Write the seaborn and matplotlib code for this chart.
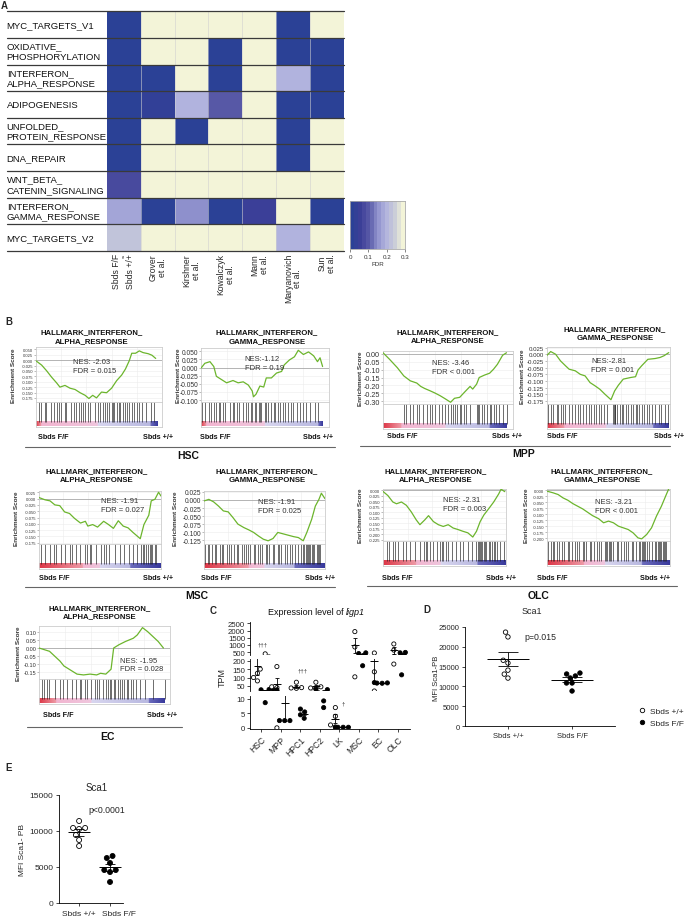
import numpy as np
import pandas as pd
import matplotlib
matplotlib.use("Agg")
import matplotlib.pyplot as plt
import seaborn as sns
from matplotlib.colors import LinearSegmentedColormap
from matplotlib.lines import Line2D
from matplotlib.transforms import blended_transform_factory

# ---------------- Panel A data ----------------
heat_rows = ["MYC_TARGETS_V1", "OXIDATIVE_\nPHOSPHORYLATION", "INTERFERON_\nALPHA_RESPONSE",
             "ADIPOGENESIS", "UNFOLDED_\nPROTEIN_RESPONSE", "DNA_REPAIR",
             "WNT_BETA_\nCATENIN_SIGNALING", "INTERFERON_\nGAMMA_RESPONSE", "MYC_TARGETS_V2"]
heat_cols = ["Sbds F/F vs Sbds +/+", "Grover\net al.", "Kirshner\net al.", "Kowalczyk\net al.",
             "Mann\net al.", "Maryanovich\net al.", "Sun\net al."]
fdr_sbds = [0.0, 0.0, 0.0, 0.0, 0.0, 0.0, 0.07, 0.18, 0.235]
fdr_grover = [0.3, 0.3, 0.0, 0.02, 0.3, 0.3, 0.3, 0.0, 0.3]
fdr_kirshner = [0.3, 0.3, 0.3, 0.2, 0.0, 0.3, 0.3, 0.15, 0.3]
fdr_kowalczyk = [0.3, 0.0, 0.0, 0.095, 0.3, 0.3, 0.3, 0.0, 0.3]
fdr_mann = [0.3, 0.3, 0.3, 0.3, 0.3, 0.3, 0.3, 0.045, 0.3]
fdr_maryanovich = [0.0, 0.0, 0.2, 0.0, 0.0, 0.0, 0.3, 0.3, 0.2]
fdr_sun = [0.3, 0.0, 0.0, 0.0, 0.3, 0.3, 0.3, 0.0, 0.3]
fdr_ticks = [0, 0.1, 0.2, 0.3]
fdr_tick_labels = ["0", "0.1", "0.2", "0.3"]

# ---------------- Panel B data (rank in % of list, enrichment score) ----------------
hsc_alpha_rank = [0, 4.5, 8.4, 12.4, 16.3, 19, 23, 27, 31, 35, 39, 42, 45, 48, 52, 56, 60, 64, 68, 71, 74, 76, 79, 82, 85, 89, 92, 95]
hsc_alpha_es = [-0.003, -0.023, -0.049, -0.079, -0.105, -0.125, -0.117, -0.13, -0.136, -0.151, -0.163, -0.178, -0.163, -0.175,
                -0.148, -0.151, -0.13, -0.095, -0.069, -0.041, -0.003, 0.032, 0.032, 0.043, 0.035, 0.03, 0.023, 0.008]
hsc_alpha_hits = [2, 4, 7, 8, 12, 14, 17, 18, 20, 23, 24, 28, 30, 32, 34, 36, 37, 39, 41, 43, 47, 49, 51, 53, 55, 56, 58, 60,
                  61, 62, 64, 66, 67, 69, 71, 72, 74, 76, 78, 80, 82, 84, 87, 91, 94]
hsc_alpha_yticks = [0.05, 0.025, 0.0, -0.025, -0.05, -0.075, -0.1, -0.125, -0.15, -0.175]

hsc_gamma_rank = [0, 3, 7, 10, 12, 16, 20, 25, 29, 33, 37, 40, 41, 43, 46, 49, 51, 55, 59, 63, 65, 69, 73, 76, 80, 84, 88, 91, 93, 95]
hsc_gamma_es = [-0.002, 0.013, 0.018, 0.003, -0.027, -0.037, -0.047, -0.04, -0.047, -0.044, -0.054, -0.072, -0.09, -0.082,
                -0.057, -0.06, -0.032, -0.032, -0.017, -0.012, 0.008, 0.023, 0.033, 0.053, 0.04, 0.048, 0.036, 0.018, 0.03, 0.003]
hsc_gamma_hits = [1, 3, 6, 8, 10, 12, 14, 15, 17, 19, 23, 25, 26, 28, 30, 33, 35, 37, 39, 40, 42, 43, 45, 46, 47, 50, 51, 52,
                  55, 57, 58, 60, 62, 64, 66, 68, 70, 72, 75, 77, 80, 82, 85, 89, 91.5]
hsc_gamma_yticks = [0.05, 0.025, 0.0, -0.025, -0.05, -0.075, -0.1]

mpp_alpha_rank = [0, 5, 11, 16, 21, 26, 29, 32, 36, 40, 44, 48, 52, 55, 59, 63, 67, 69, 72, 74, 78, 82, 85, 88, 92, 95]
mpp_alpha_es = [0.006, -0.035, -0.088, -0.14, -0.171, -0.185, -0.206, -0.219, -0.233, -0.248, -0.265, -0.285, -0.306,
                -0.281, -0.275, -0.24, -0.206, -0.223, -0.192, -0.15, -0.135, -0.123, -0.098, -0.067, -0.01, 0.006]
mpp_alpha_hits = [16, 18, 21, 23, 26, 28, 31, 34, 36, 38, 40, 43, 45, 48, 50, 52, 54, 55, 57, 59, 60, 62, 64, 67, 72, 73,
                  74, 76, 78, 80, 82, 83, 85, 87, 89, 92, 95]
mpp_alpha_yticks = [0.0, -0.05, -0.1, -0.15, -0.2, -0.25, -0.3]

mpp_gamma_rank = [0, 3, 7, 11, 15, 18, 23, 27, 31, 35, 39, 43, 47, 52, 55, 58, 62, 68, 72, 74, 77, 82, 88, 92, 95, 99]
mpp_gamma_es = [-0.004, 0.01, 0.0, -0.025, -0.043, -0.056, -0.062, -0.075, -0.081, -0.106, -0.118, -0.131, -0.149, -0.17,
                -0.137, -0.116, -0.093, -0.087, -0.084, -0.059, -0.043, -0.019, -0.016, -0.012, -0.006, 0.006]
mpp_gamma_hits = [1, 3, 5, 8, 9, 11, 13, 15, 18, 20, 23, 25, 27, 29, 32, 34, 36, 38, 40, 42, 44, 46, 49, 54, 54.5, 55,
                  55.5, 57, 59, 61, 62, 64, 66, 68, 70, 72, 73, 75, 77, 79, 81, 83, 85, 88, 91, 93, 96, 98]
mpp_gamma_yticks = [0.025, 0.0, -0.025, -0.05, -0.075, -0.1, -0.125, -0.15, -0.175]

msc_alpha_rank = [0, 5, 9, 13, 17, 21, 25, 29, 34, 38, 40, 44, 48, 53, 57, 61, 65, 69, 73, 77, 83, 86, 90, 92, 95, 98, 100]
msc_alpha_es = [0.004, -0.005, -0.009, -0.025, -0.028, -0.053, -0.059, -0.078, -0.097, -0.09, -0.109, -0.103, -0.113,
                -0.09, -0.103, -0.118, -0.088, -0.109, -0.116, -0.134, -0.159, -0.103, -0.066, -0.009, -0.003, 0.025, 0.01]
msc_alpha_hits = [2, 5, 9, 12, 14, 18, 21, 25, 27, 30, 34, 38, 39, 42, 43, 47, 51, 53, 55, 57, 62, 66, 70, 74, 77, 80, 84,
                  85, 86, 88, 89, 91, 92, 93, 95, 96]
msc_alpha_yticks = [0.025, 0.0, -0.025, -0.05, -0.075, -0.1, -0.125, -0.15, -0.175]

msc_gamma_rank = [0, 4, 8, 12, 16, 20, 24, 28, 33, 37, 41, 45, 49, 53, 57, 61, 66, 70, 74, 78, 82, 85, 89, 92, 95, 97, 100]
msc_gamma_es = [-0.003, 0.002, -0.006, -0.019, -0.034, -0.037, -0.055, -0.075, -0.086, -0.093, -0.101, -0.112, -0.122,
                -0.127, -0.12, -0.101, -0.106, -0.11, -0.114, -0.117, -0.127, -0.101, -0.06, -0.019, 0.002, 0.021, 0.004]
msc_gamma_hits = [1, 3, 4, 7, 9, 10, 13, 15, 16, 19, 21, 22, 25, 27, 28, 31, 33, 35, 36, 38, 41, 42, 45, 46, 48, 51, 52,
                  54, 57, 58, 61, 62, 64, 67, 69, 71, 73, 75, 78, 80, 82, 83, 84, 85, 86, 87, 88, 89, 90, 91, 93, 94, 95, 96]
msc_gamma_yticks = [0.025, 0.0, -0.025, -0.05, -0.075, -0.1, -0.125]

olc_alpha_rank = [0, 4, 8, 11, 15, 19, 23, 27, 30, 34, 37, 41, 45, 49, 53, 57, 61, 65, 69, 73, 76, 79, 82, 86, 90, 94, 96, 99]
olc_alpha_es = [-0.006, -0.025, -0.054, -0.062, -0.054, -0.069, -0.099, -0.135, -0.157, -0.135, -0.116, -0.143, -0.157,
                -0.165, -0.157, -0.172, -0.179, -0.187, -0.194, -0.213, -0.187, -0.143, -0.113, -0.084, -0.054, -0.018, 0.004, -0.007]
olc_alpha_hits = [3, 5, 8, 10, 12, 16, 19, 22, 26, 30, 33, 35, 36, 38, 41, 44, 46, 48, 49, 51, 53, 56, 59, 63, 65, 69, 72,
                  76, 77, 78, 78.5, 80, 80.5, 82, 83, 84, 86, 87, 89, 90, 91, 93, 95, 98]
olc_alpha_yticks = [0.0, -0.025, -0.05, -0.075, -0.1, -0.125, -0.15, -0.175, -0.2, -0.225]

olc_gamma_rank = [0, 5, 9, 13, 17, 21, 25, 29, 33, 37, 42, 46, 50, 54, 58, 62, 66, 70, 74, 77, 81, 85, 89, 93, 97, 99]
olc_gamma_es = [-0.004, -0.011, -0.018, -0.032, -0.042, -0.056, -0.067, -0.078, -0.092, -0.106, -0.119, -0.136, -0.129,
                -0.136, -0.15, -0.157, -0.164, -0.178, -0.199, -0.203, -0.185, -0.157, -0.108, -0.067, -0.018, 0.006]
olc_gamma_hits = [1, 3, 5, 6, 8, 10, 12, 14, 17, 18, 20, 23, 24, 26, 29, 30, 32, 35, 36, 38, 41, 42, 44, 47, 48, 49, 50,
                  51, 52, 54, 57, 58, 60, 63, 64, 66, 69, 70, 72, 75, 76, 77, 78, 79, 80, 81, 83, 85, 88, 89, 90, 91, 92,
                  93, 94, 95, 96, 97]
olc_gamma_yticks = [0.0, -0.025, -0.05, -0.075, -0.1, -0.125, -0.15, -0.175, -0.2]

ec_alpha_rank = [0, 4, 8, 12, 16, 19, 23, 29, 34, 39, 44, 47, 51, 55, 57, 61, 66, 72, 75, 79, 83, 87, 91, 95]
ec_alpha_es = [0.0, -0.01, -0.02, -0.05, -0.08, -0.11, -0.13, -0.16, -0.165, -0.16, -0.165, -0.155, -0.16, -0.13, 0.0,
               0.02, 0.04, 0.06, 0.08, 0.125, 0.1, 0.07, 0.04, 0.0]
ec_alpha_hits = [2, 4, 6, 8, 12, 16, 18, 21, 25, 28, 31, 32, 35, 37, 40, 43, 44, 46, 49, 51, 53, 54, 55, 57, 58, 60, 62,
                 63, 65, 67, 68, 70, 72, 74, 77, 81, 87, 96]
ec_alpha_yticks = [0.1, 0.05, 0.0, -0.05, -0.1, -0.15]

nes_texts = ["NES: -2.03\nFDR = 0.015", "NES:-1.12\nFDR = 0.19", "NES: -3.46\nFDR < 0.001", "NES:-2.81\nFDR = 0.001",
             "NES: -1.91\nFDR = 0.027", "NES: -1.91\nFDR = 0.025", "NES: -2.31\nFDR = 0.003", "NES: -3.21\nFDR < 0.001",
             "NES: -1.95\nFDR = 0.028"]
title_alpha = "HALLMARK_INTERFERON_\nALPHA_RESPONSE"
title_gamma = "HALLMARK_INTERFERON_\nGAMMA_RESPONSE"
cell_names = ["HSC", "MPP", "MSC", "OLC", "EC"]

# ---------------- Panel C data (TPM) ----------------
c_cells = ["HSC", "MPP", "HPC1", "HPC2", "LK", "MSC", "EC", "OLC"]
c_wt_values = [[380, 150, 125, 100, 80], [165, 45, 40, 0], [72, 40, 38, 36], [72, 45, 38, 36],
               [7, 4, 1, 0.3], [1930, 860, 104], [440, 134, 20], [1070, 640, 180]]
c_ko_values = [[30, 29, 27, 8.7], [27, 2.5, 2.5, 2.5], [6.5, 5.5, 4.5, 3.3], [31, 28, 9.3, 7],
               [0.2, 0.2, 0.2, 0.2], [450, 400, 170], [70, 68, 67, 66], [480, 450, 116]]
c_ticks_top = [500, 1000, 1500, 2000, 2500]
c_ticks_mid = [50, 100, 150, 200]
c_ticks_bot = [0, 5, 10]
geno_order = ["Sbds +/+", "Sbds F/F"]

# ---------------- Panel D / E data (MFI) ----------------
d_wt = [23700, 22500, 16600, 15900, 14100, 13100, 12100]
d_ko = [13130, 13380, 12630, 12120, 10860, 10860, 8840]
d_ticks = [0, 5000, 10000, 15000, 20000, 25000]
e_wt = [11390, 10420, 10280, 10420, 9440, 8750, 7920]
e_ko = [6530, 6250, 5560, 4580, 4580, 4300, 2920]
e_ticks = [0, 5000, 10000, 15000]

# =====================================================================
sns.set_theme(style="ticks")
plt.rcParams["font.family"] = ["Liberation Sans", "DejaVu Sans"]
plt.rcParams["axes.linewidth"] = 0.6

W, H = 685, 920
fig = plt.figure(figsize=(6.85, 9.2), dpi=100)
fig.patch.set_facecolor("white")


def add_ax(x0, y0, x1, y1):
    return fig.add_axes([x0 / W, 1 - y1 / H, (x1 - x0) / W, (y1 - y0) / H])


def ftext(x, y, s, **kw):
    return fig.text(x / W, 1 - y / H, s, **kw)


def fline(x0, x1, y, color="#555555", lw=0.8):
    fig.add_artist(Line2D([x0 / W, x1 / W], [1 - y / H, 1 - y / H], color=color, lw=lw,
                          transform=fig.transFigure))


# ---------------- Panel A ----------------
ftext(1, 6, "A", fontsize=7, fontweight="bold", ha="left", va="center")
heat_df = pd.DataFrame(np.array([fdr_sbds, fdr_grover, fdr_kirshner, fdr_kowalczyk, fdr_mann,
                                 fdr_maryanovich, fdr_sun]).T, index=heat_rows, columns=heat_cols)
cmap_fdr = LinearSegmentedColormap.from_list(
    "fdr", [(0, "#2b4196"), (0.05 / 0.3, "#3d3f98"), (0.1 / 0.3, "#5a5ba8"), (0.15 / 0.3, "#8e90cc"),
            (0.2 / 0.3, "#b1b3de"), (0.25 / 0.3, "#c8cbd9"), (1.0, "#f3f4d8")])
A_x0, A_x1, A_y0, A_y1 = 106.7, 344, 12.3, 251.7
axA = add_ax(A_x0, A_y0, A_x1, A_y1)
sns.heatmap(heat_df, ax=axA, cmap=cmap_fdr, vmin=0, vmax=0.3, cbar=False,
            xticklabels=False, yticklabels=False, linewidths=0)
axA.set_xlabel("")
axA.set_ylabel("")
trA = blended_transform_factory(axA.transAxes, axA.transData)
for j in range(1, len(heat_cols)):
    axA.axvline(j, color="#d0d0d0", lw=0.4)
left_frac = (6.7 - A_x0) / (A_x1 - A_x0)
for i in range(len(heat_rows) + 1):
    axA.plot([left_frac, 1], [i, i], transform=trA, color="#3a3a3a", lw=0.9, clip_on=False)
for i, lab in enumerate(heat_rows):
    axA.text(left_frac, i + 0.5, lab, transform=trA, ha="left", va="center", fontsize=6.8,
             linespacing=1.2, color="#111111")
colw = (A_x1 - A_x0) / len(heat_cols)
for j, lab in enumerate(heat_cols):
    cx = A_x0 + colw * (j + 0.5)
    if j == 0:
        ftext(cx - 7, 254, "Sbds F/F", rotation=90, ha="center", va="top", fontsize=6.2)
        ftext(cx + 0.5, 254, "vs", rotation=90, ha="center", va="top", fontsize=3)
        ftext(cx + 7, 254, "Sbds +/+", rotation=90, ha="center", va="top", fontsize=6.2)
    else:
        ftext(cx, 254, lab, rotation=90, ha="center", va="top", fontsize=6.2, multialignment="center",
              linespacing=1.1)

axCB = add_ax(350, 202, 405, 250)
axCB.imshow(np.linspace(0, 0.3, 14)[None, :], aspect="auto", cmap=cmap_fdr, vmin=0, vmax=0.3,
            extent=[0, 0.3, 0, 1])
axCB.set_xlim(0, 0.3)
axCB.set_yticks([])
axCB.set_xticks(fdr_ticks)
axCB.set_xticklabels(fdr_tick_labels, fontsize=4.5, color="#333333")
axCB.tick_params(axis="x", length=2, width=0.5, pad=1.5, color="#555555")
axCB.set_xlabel("FDR", fontsize=4.5, labelpad=1.5, color="#333333")
for s in axCB.spines.values():
    s.set_color("#aaaaaa")
    s.set_linewidth(0.6)

# ---------------- Panel B ----------------
ftext(5, 322, "B", fontsize=7, fontweight="bold", ha="left", va="center")

gsea_specs = [
    dict(box=(36, 348, 162, 403), rank=hsc_alpha_rank, es=hsc_alpha_es, hits=hsc_alpha_hits, yt=hsc_alpha_yticks,
         ylim=(-0.194, 0.061), fmt="{:.3f}", tfs=3.0, strip=(4, 49, 91, 96.6), nes=nes_texts[0], nes_xy=(0.29, 0.80),
         title=title_alpha, txy=(92, 337), ylx=14, laby=438, labl=38, labr=173),
    dict(box=(201, 349, 329, 403), rank=hsc_gamma_rank, es=hsc_gamma_es, hits=hsc_gamma_hits, yt=hsc_gamma_yticks,
         ylim=(-0.106, 0.06), fmt="{:.3f}", tfs=4.8, strip=(4, 50, 92, 95.3), nes=nes_texts[1], nes_xy=(0.34, 0.87),
         title=title_gamma, txy=(267, 337), ylx=178, laby=438, labl=200, labr=333),
    dict(box=(383, 352, 513, 405), rank=mpp_alpha_rank, es=mpp_alpha_es, hits=mpp_alpha_hits, yt=mpp_alpha_yticks,
         ylim=(-0.317, 0.017), fmt="{:.2f}", tfs=5.2, strip=(14, 48, 82, 95), nes=nes_texts[2], nes_xy=(0.38, 0.85),
         title=title_alpha, txy=(448, 336.5), ylx=361, laby=437, labl=387, labr=522),
    dict(box=(547, 348, 670, 405), rank=mpp_gamma_rank, es=mpp_gamma_es, hits=mpp_gamma_hits, yt=mpp_gamma_yticks,
         ylim=(-0.186, 0.027), fmt="{:.3f}", tfs=4.4, strip=(14, 48, 86, 98.6), nes=nes_texts[3], nes_xy=(0.36, 0.82),
         title=title_gamma, txy=(615, 334), ylx=523, laby=437, labl=547, labr=684),
    dict(box=(39, 492, 161, 545), rank=msc_alpha_rank, es=msc_alpha_es, hits=msc_alpha_hits, yt=msc_alpha_yticks,
         ylim=(-0.18, 0.03), fmt="{:.3f}", tfs=3.0, strip=(36, 50, 75, 100), nes=nes_texts[4], nes_xy=(0.51, 0.89),
         title=title_alpha, txy=(97, 476), ylx=17, laby=578, labl=39, labr=173),
    dict(box=(204, 492, 325, 545), rank=msc_gamma_rank, es=msc_gamma_es, hits=msc_gamma_hits, yt=msc_gamma_yticks,
         ylim=(-0.137, 0.028), fmt="{:.3f}", tfs=4.8, strip=(37, 50, 75, 100), nes=nes_texts[5], nes_xy=(0.45, 0.87),
         title=title_gamma, txy=(267, 476), ylx=175, laby=578, labl=201, labr=335),
    dict(box=(383, 490, 506, 542), rank=olc_alpha_rank, es=olc_alpha_es, hits=olc_alpha_hits, yt=olc_alpha_yticks,
         ylim=(-0.231, 0.005), fmt="{:.3f}", tfs=3.0, strip=(27, 47, 77, 100), nes=nes_texts[6], nes_xy=(0.49, 0.87),
         title=title_alpha, txy=(436, 476), ylx=361, laby=578, labl=382, labr=516),
    dict(box=(547, 490, 670, 542), rank=olc_gamma_rank, es=olc_gamma_es, hits=olc_gamma_hits, yt=olc_gamma_yticks,
         ylim=(-0.212, 0.005), fmt="{:.3f}", tfs=3.0, strip=(30, 47, 77, 99.5), nes=nes_texts[7], nes_xy=(0.39, 0.82),
         title=title_gamma, txy=(602, 476), ylx=527, laby=578, labl=537, labr=670),
    dict(box=(39, 627, 170, 680), rank=ec_alpha_rank, es=ec_alpha_es, hits=ec_alpha_hits, yt=ec_alpha_yticks,
         ylim=(-0.19, 0.135), fmt="{:.2f}", tfs=4.0, strip=(13, 40, 84, 96), nes=nes_texts[8], nes_xy=(0.62, 0.42),
         title=title_alpha, txy=(100, 613), ylx=18, laby=716, labl=43, labr=177),
]

grad = np.linspace(0, 1, 256)[None, :]
for sp in gsea_specs:
    x0, y0, x1, y1 = sp["box"]
    ax = add_ax(x0, y0, x1, y1)
    ax.plot(sp["rank"], sp["es"], color="#6cb52d", lw=0.9, zorder=3)
    ax.axhline(0, color="#9a9a9a", lw=0.5, zorder=2)
    ax.set_xlim(0, 100)
    ax.set_ylim(*sp["ylim"])
    ax.set_yticks(sp["yt"])
    ax.set_yticklabels([sp["fmt"].format(v) for v in sp["yt"]], fontsize=sp["tfs"], color="#333333")
    ax.set_xticks([20, 40, 60, 80])
    ax.set_xticklabels([])
    ax.tick_params(axis="y", length=1.2, width=0.4, pad=0.8, color="#888888")
    ax.tick_params(axis="x", length=0)
    ax.grid(True, color="#ececec", lw=0.4, zorder=0)
    for s in ax.spines.values():
        s.set_color("#cccccc")
        s.set_linewidth(0.6)
    ax.text(sp["nes_xy"][0], sp["nes_xy"][1], sp["nes"], transform=ax.transAxes, ha="left", va="top",
            fontsize=5.5, linespacing=1.35, color="#333333", zorder=4)

    low = add_ax(x0, y1, x1, y1 + 25)
    r, p, l, e = sp["strip"]
    nodes = [(0, "#dc3646"), (r / e - 0.002, "#ee9aa6"), (r / e, "#f2b5d0"), (p / e - 0.002, "#efc6dd"),
             (p / e, "#d8d6ef"), (l / e - 0.002, "#b8b8e0"), (l / e, "#6c6cbc"), (1, "#38399c")]
    scm = LinearSegmentedColormap.from_list("strip", nodes)
    low.imshow(grad, aspect="auto", cmap=scm, extent=[0, e, 0.03, 0.21], zorder=1)
    low.vlines(sp["hits"], 0.21, 1.0, color="#1c1c1c", lw=0.45, zorder=2)
    low.set_xlim(0, 100)
    low.set_ylim(0, 1)
    low.set_xticks([])
    low.set_yticks([])
    for s in low.spines.values():
        s.set_color("#cccccc")
        s.set_linewidth(0.6)

    ftext(sp["txy"][0], sp["txy"][1], sp["title"], ha="center", va="center", fontsize=5.6,
          fontweight="bold", linespacing=1.25, color="#111111")
    ftext(sp["ylx"], (y0 + y1) / 2, "Enrichment Score", rotation=90, ha="center", va="center",
          fontsize=4.6, fontweight="bold", color="#333333")
    ftext(sp["labl"], sp["laby"], "Sbds F/F", ha="left", va="center", fontsize=5.2, fontweight="bold",
          color="#111111")
    ftext(sp["labr"], sp["laby"], "Sbds +/+", ha="right", va="center", fontsize=5.2, fontweight="bold",
          color="#111111")

group_lines = [(25, 335, 448, 188, 456), (360, 670, 447, 524, 454), (25, 335, 588, 197, 596),
               (367, 677, 587, 538, 596), (27, 182, 728, 107, 737)]
for name, (gx0, gx1, gy, tx, ty) in zip(cell_names, group_lines):
    fline(gx0, gx1, gy, color="#666666", lw=0.8)
    ftext(tx, ty, name, ha="center", va="center", fontsize=7.5, fontweight="bold", color="#111111")

# ---------------- Panel C ----------------
ftext(213, 611, "C", fontsize=7, fontweight="bold", ha="center", va="center")
t_expr = ftext(268, 613, "Expression level of ", ha="left", va="center", fontsize=6.5, color="#111111")
axA.annotate("ligp1", xy=(1, 0), xycoords=t_expr, ha="left", va="bottom", fontsize=6.5,
             style="italic", color="#111111", annotation_clip=False)

c_rows = []
for cell, wt, ko in zip(c_cells, c_wt_values, c_ko_values):
    for v in wt:
        c_rows.append((cell, geno_order[0], v))
    for v in ko:
        c_rows.append((cell, geno_order[1], v))
c_df = pd.DataFrame(c_rows, columns=["cell", "geno", "tpm"])
geno_pal = {geno_order[0]: "white", geno_order[1]: "black"}

c_segments = [((250, 623, 410, 656), (300, 2600), c_ticks_top),
              ((250, 660, 410, 692), (20, 210), c_ticks_mid),
              ((250, 697, 410, 730), (-0.4, 11), c_ticks_bot)]
for k, (box, lim, ticks) in enumerate(c_segments):
    ax = add_ax(*box)
    sns.swarmplot(data=c_df, x="cell", y="tpm", hue="geno", order=c_cells, hue_order=geno_order,
                  palette=geno_pal, dodge=True, size=3.0, edgecolor="black", linewidth=0.6,
                  legend=False, ax=ax, clip_on=True, zorder=3)
    for i, cell in enumerate(c_cells):
        for g, off in zip(geno_order, (-0.2, 0.2)):
            v = c_df.loc[(c_df.cell == cell) & (c_df.geno == g), "tpm"].to_numpy()
            m = v.mean()
            s = v.std(ddof=1) / np.sqrt(len(v))
            xc = i + off
            ax.hlines(m, xc - 0.2, xc + 0.2, color="black", lw=0.7, zorder=4)
            ax.vlines(xc, m - s, m + s, color="black", lw=0.6, zorder=4)
            ax.hlines([m - s, m + s], xc - 0.1, xc + 0.1, color="black", lw=0.6, zorder=4)
    ax.set_xlim(-0.58, 7.63)
    ax.set_ylim(*lim)
    ax.set_yticks(ticks)
    ax.set_yticklabels([str(t) for t in ticks], fontsize=5.6)
    ax.set_xlabel("")
    ax.set_ylabel("")
    ax.tick_params(axis="y", length=2.5, width=0.6, pad=1)
    for s in ("top", "right"):
        ax.spines[s].set_visible(False)
    ax.spines["left"].set_color("black")
    if k < 2:
        ax.spines["bottom"].set_visible(False)
        ax.set_xticks([])
    else:
        ax.spines["bottom"].set_color("black")
        ax.set_xticks(range(len(c_cells)))
        ax.set_xticklabels(c_cells, rotation=45, ha="right", rotation_mode="anchor", fontsize=6.2)
        ax.tick_params(axis="x", length=2.5, width=0.6, pad=1.5)
ftext(222, 678, "TPM", rotation=90, ha="center", va="center", fontsize=6.5)
ftext(263, 645, "†††", ha="center", va="center", fontsize=4.5)
ftext(303, 671, "†††", ha="center", va="center", fontsize=4.5)
ftext(343, 704, "†", ha="center", va="center", fontsize=4.5)


# ---------------- Panel D / E ----------------
def mfi_panel(box, wt, ko, ylim, ticks, xlim, size, half_mean, half_cap, tfs, label_x=None, label_y=None):
    ax = add_ax(*box)
    df = pd.DataFrame({"geno": [geno_order[0]] * len(wt) + [geno_order[1]] * len(ko),
                       "mfi": list(wt) + list(ko)})
    sns.swarmplot(data=df, x="geno", y="mfi", hue="geno", order=geno_order, hue_order=geno_order,
                  palette=geno_pal, size=size, edgecolor="black", linewidth=0.6, legend=False, ax=ax,
                  zorder=3)
    for i, g in enumerate(geno_order):
        v = df.loc[df.geno == g, "mfi"].to_numpy()
        m = v.mean()
        s = v.std(ddof=1) / np.sqrt(len(v))
        ax.hlines(m, i - half_mean, i + half_mean, color="black", lw=0.7, zorder=4)
        ax.vlines(i, m - s, m + s, color="black", lw=0.6, zorder=4)
        ax.hlines([m - s, m + s], i - half_cap, i + half_cap, color="black", lw=0.6, zorder=4)
    ax.set_xlim(*xlim)
    ax.set_ylim(*ylim)
    ax.set_yticks(ticks)
    ax.set_yticklabels([str(t) for t in ticks], fontsize=tfs)
    ax.set_xticks([0, 1])
    if label_x is None:
        ax.set_xticklabels(geno_order, fontsize=tfs)
    else:
        ax.set_xticklabels(["", ""])
        for lx, g in zip(label_x, geno_order):
            ftext(lx, label_y, g, ha="center", va="center", fontsize=tfs)
    ax.set_xlabel("")
    ax.set_ylabel("")
    ax.tick_params(length=2.5, width=0.6, pad=1.5)
    for s in ("top", "right"):
        ax.spines[s].set_visible(False)
    for s in ("left", "bottom"):
        ax.spines[s].set_color("black")
    return ax


ftext(427, 610, "D", fontsize=7, fontweight="bold", ha="center", va="center")
ftext(532, 612, "Sca1", ha="center", va="center", fontsize=6.5)
mfi_panel((465, 628, 615, 727), d_wt, d_ko, (0, 25000), d_ticks, (-0.67, 1.67), 3.2, 0.33, 0.16, 5.5)
ftext(524, 638, "p=0.015", ha="left", va="center", fontsize=6.3)
ftext(437, 678, "MFI Sca1-PB", rotation=90, ha="center", va="center", fontsize=5.5)
handles = [Line2D([], [], marker="o", ls="", mfc="white", mec="black", ms=3.2, mew=0.6),
           Line2D([], [], marker="o", ls="", mfc="black", mec="black", ms=3.2, mew=0.6)]
fig.legend(handles, geno_order, loc="center left", bbox_to_anchor=(630 / W, 1 - 718 / H), frameon=False,
           fontsize=6, handletextpad=0.5, labelspacing=0.6, handlelength=1.0)

ftext(5, 768, "E", fontsize=7, fontweight="bold", ha="left", va="center")
ftext(97, 788, "Sca1", ha="center", va="center", fontsize=7)
mfi_panel((59, 796, 123, 904), e_wt, e_ko, (0, 15000), e_ticks, (-0.65, 1.42), 3.6, 0.35, 0.15, 6,
          label_x=(79, 119), label_y=915)
ftext(88, 811, "p<0.0001", ha="left", va="center", fontsize=6.3)
ftext(22, 850, "MFI Sca1- PB", rotation=90, ha="center", va="center", fontsize=6)

fig.savefig("out.png", dpi=100, facecolor="white")
